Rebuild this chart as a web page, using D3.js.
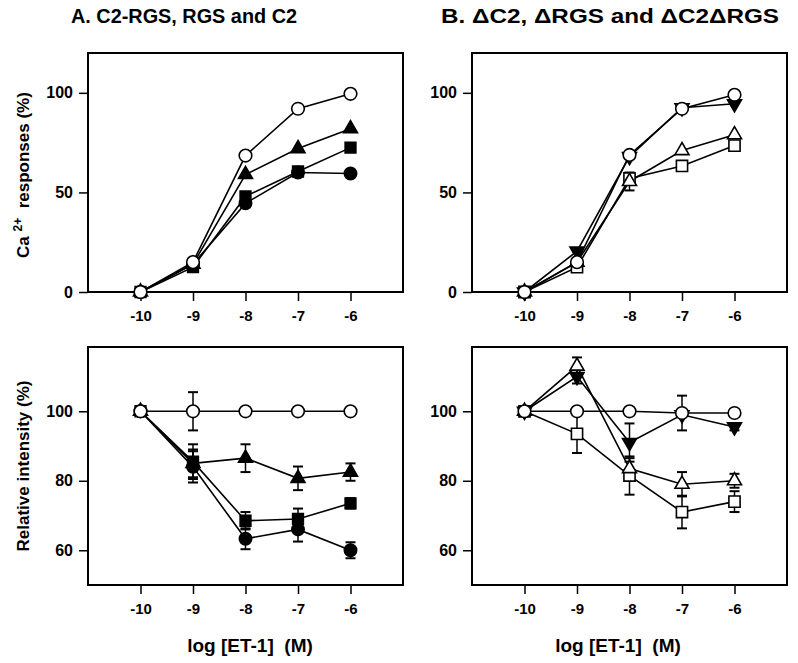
<!DOCTYPE html>
<html>
<head>
<meta charset="utf-8">
<script src="https://cdn.jsdelivr.net/npm/d3@7"></script>
<style>
  body { margin: 0; background: #fff; }
  svg { display: block; }
  text { font-family: 'Liberation Sans', Arial, Helvetica, sans-serif; font-weight: bold; fill: #000; }
</style>
</head>
<body>
<svg id="chart" width="798" height="663"></svg>
<script>
// doses, log [ET-1] (M)
const doses = [-10, -9, -8, -7, -6]
const caTicks = [0, 50, 100]
const relTicks = [60, 80, 100]

// A, Ca2+ responses (%)
const aCaOpenCircle = [0, 15, 68.5, 92, 99.5]
const aCaTriangle = [0, 14, 59, 72, 82]
const aCaSquare = [0, 12.5, 48, 60.5, 72.5]
const aCaCircle = [0, 14, 44.5, 60, 59.5]

// B, Ca2+ responses (%)
const bCaOpenCircle = [0, 15, 68.8, 92, 99]
const bCaInvTriangle = [0, 20.5, 68, 92.5, 94.5]
const bCaOpenTriangle = [0, 15, 55.5, 71, 79]
const bCaOpenTriangleErr = [0, 0, 4.5, 0, 0]
const bCaOpenSquare = [0, 12.5, 57, 63.3, 73.5]

// A, relative intensity (%)
const aRelOpenCircle = [100, 100, 100, 100, 100]
const aRelOpenCircleErr = [0, 5.5, 0, 0, 0]
const aRelTriangle = [100, 85, 86.5, 80.7, 82.5]
const aRelTriangleErr = [0, 4, 4, 3.4, 2.5]
const aRelSquare = [100, 85.5, 68.5, 69, 73.5]
const aRelSquareErr = [0, 5, 2.5, 3, 1.5]
const aRelCircle = [100, 84, 63.3, 66, 60]
const aRelCircleErr = [0, 4.5, 3, 3.5, 2.3]

// B, relative intensity (%)
const bRelOpenCircle = [100, 100, 100, 99.5, 99.5]
const bRelOpenCircleErr = [0, 0, 0, 5, 0]
const bRelInvTriangle = [100, 110, 91, 99, 95.5]
const bRelInvTriangleErr = [0, 2, 5.5, 0, 1]
const bRelOpenTriangle = [100, 113, 83.5, 79, 80]
const bRelOpenTriangleErr = [0, 2.5, 3, 3.5, 2]
const bRelOpenSquare = [100, 93.5, 81.5, 71, 74]
const bRelOpenSquareErr = [0, 5.5, 5.5, 4.7, 3]

const svg = d3.select('#chart')

const shapes = {
  openCircle: {type: d3.symbolCircle, size: 125, fill: '#fff', rotate: 0},
  circle: {type: d3.symbolCircle, size: 120, fill: '#000', rotate: 0},
  square: {type: d3.symbolSquare, size: 115, fill: '#000', rotate: 0},
  openSquare: {type: d3.symbolSquare, size: 125, fill: '#fff', rotate: 0},
  triangle: {type: d3.symbolTriangle, size: 85, fill: '#000', rotate: 0},
  openTriangle: {type: d3.symbolTriangle, size: 85, fill: '#fff', rotate: 0},
  invTriangle: {type: d3.symbolTriangle, size: 85, fill: '#000', rotate: 180}
}

function drawPanel(cfg) {
  const x = d3.scaleLinear().domain([-11, -5]).range([cfg.left, cfg.right])
  const y = d3.scaleLinear().domain(cfg.yDomain).range([cfg.bottom, cfg.top])
  const g = svg.append('g')

  // ticks
  g.append('g')
    .attr('transform', 'translate(0,' + cfg.bottom + ')')
    .call(d3.axisBottom(x).tickValues(doses).tickSize(9).tickSizeOuter(0).tickPadding(9).tickFormat(d => '-' + Math.abs(d)))
    .call(a => a.select('.domain').remove())
    .call(a => a.selectAll('line').attr('stroke-width', 1.5))
    .call(a => a.selectAll('text').attr('font-size', 15).style('font-family', null))

  g.append('g')
    .attr('transform', 'translate(' + cfg.left + ',0)')
    .call(d3.axisLeft(y).tickValues(cfg.yTicks).tickSize(9).tickSizeOuter(0).tickPadding(6))
    .call(a => a.select('.domain').remove())
    .call(a => a.selectAll('line').attr('stroke-width', 1.5))
    .call(a => a.selectAll('text').attr('font-size', 16).style('font-family', null))

  // frame
  g.append('rect')
    .attr('x', cfg.left).attr('y', cfg.top)
    .attr('width', cfg.right - cfg.left).attr('height', cfg.bottom - cfg.top)
    .attr('fill', 'none').attr('stroke', '#000').attr('stroke-width', 2)

  const line = d3.line().x((d, i) => x(doses[i])).y(d => y(d))

  cfg.series.forEach(s => {
    g.append('path')
      .attr('d', line(s.values))
      .attr('fill', 'none').attr('stroke', '#000').attr('stroke-width', 1.6)
  })

  cfg.series.forEach(s => {
    if (!s.err) return
    s.err.forEach((e, i) => {
      if (!e) return
      const cx = x(doses[i])
      const y1 = y(s.values[i] + e)
      const y2 = y(s.values[i] - e)
      g.append('line').attr('x1', cx).attr('x2', cx).attr('y1', y1).attr('y2', y2)
        .attr('stroke', '#000').attr('stroke-width', 1.5)
      ;[y1, y2].forEach(yy => {
        g.append('line').attr('x1', cx - 5).attr('x2', cx + 5).attr('y1', yy).attr('y2', yy)
          .attr('stroke', '#000').attr('stroke-width', 2)
      })
    })
  })

  cfg.series.forEach(s => {
    const sh = shapes[s.shape]
    g.selectAll(null)
      .data(s.values)
      .enter()
      .append('path')
      .attr('d', d3.symbol().type(sh.type).size(sh.size))
      .attr('transform', (d, i) => 'translate(' + x(doses[i]) + ',' + y(d) + ') rotate(' + sh.rotate + ')')
      .attr('fill', sh.fill).attr('stroke', '#000').attr('stroke-width', 1.6)
  })
}

const topY = {top: 53, bottom: 292, yDomain: [0, 120], yTicks: caTicks}
const botY = {top: 347, bottom: 585, yDomain: [50, 118.5], yTicks: relTicks}
const colA = {left: 88, right: 403}
const colB = {left: 472, right: 787}

drawPanel(Object.assign({}, colA, topY, {series: [
  {values: aCaCircle, shape: 'circle'},
  {values: aCaSquare, shape: 'square'},
  {values: aCaTriangle, shape: 'triangle'},
  {values: aCaOpenCircle, shape: 'openCircle'}
]}))

drawPanel(Object.assign({}, colB, topY, {series: [
  {values: bCaOpenSquare, shape: 'openSquare'},
  {values: bCaOpenTriangle, shape: 'openTriangle', err: bCaOpenTriangleErr},
  {values: bCaInvTriangle, shape: 'invTriangle'},
  {values: bCaOpenCircle, shape: 'openCircle'}
]}))

drawPanel(Object.assign({}, colA, botY, {series: [
  {values: aRelCircle, shape: 'circle', err: aRelCircleErr},
  {values: aRelSquare, shape: 'square', err: aRelSquareErr},
  {values: aRelTriangle, shape: 'triangle', err: aRelTriangleErr},
  {values: aRelOpenCircle, shape: 'openCircle', err: aRelOpenCircleErr}
]}))

drawPanel(Object.assign({}, colB, botY, {series: [
  {values: bRelOpenSquare, shape: 'openSquare', err: bRelOpenSquareErr},
  {values: bRelOpenTriangle, shape: 'openTriangle', err: bRelOpenTriangleErr},
  {values: bRelInvTriangle, shape: 'invTriangle', err: bRelInvTriangleErr},
  {values: bRelOpenCircle, shape: 'openCircle', err: bRelOpenCircleErr}
]}))

// titles
svg.append('text').attr('x', 71).attr('y', 23).attr('font-size', 20)
  .attr('textLength', 226).attr('lengthAdjust', 'spacingAndGlyphs')
  .text('A. C2-RGS, RGS and C2')
svg.append('text').attr('x', 441).attr('y', 23).attr('font-size', 20)
  .attr('textLength', 338).attr('lengthAdjust', 'spacingAndGlyphs')
  .text('B. \u0394C2, \u0394RGS and \u0394C2\u0394RGS')

// axis titles
const caLabel = svg.append('text')
  .attr('transform', 'translate(29,175) rotate(-90)')
  .attr('text-anchor', 'middle').attr('font-size', 17)
  .attr('xml:space', 'preserve')
caLabel.append('tspan').text('Ca ')
caLabel.append('tspan').attr('font-size', 12).attr('dy', -7).text('2+')
caLabel.append('tspan').attr('dy', 7).text('  responses (%)')

svg.append('text')
  .attr('transform', 'translate(29,466) rotate(-90)')
  .attr('text-anchor', 'middle').attr('font-size', 17)
  .text('Relative intensity (%)')

svg.append('text').attr('x', 250).attr('y', 652).attr('text-anchor', 'middle').attr('font-size', 19)
  .attr('xml:space', 'preserve').text('log [ET-1]  (M)')
svg.append('text').attr('x', 618).attr('y', 652).attr('text-anchor', 'middle').attr('font-size', 19)
  .attr('xml:space', 'preserve').text('log [ET-1]  (M)')
</script>
</body>
</html>
